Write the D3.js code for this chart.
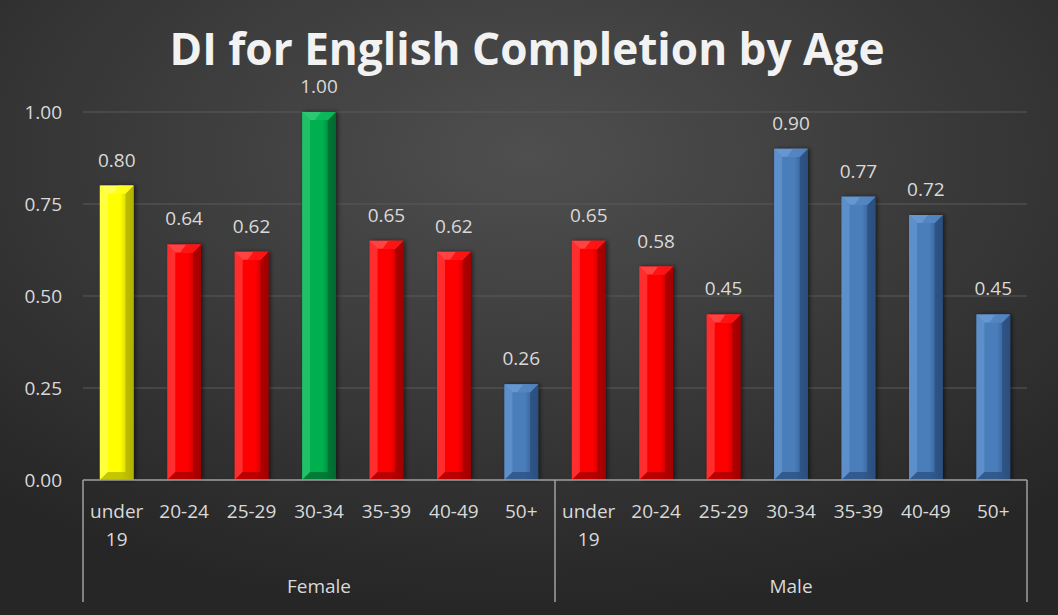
<!DOCTYPE html>
<html><head><meta charset="utf-8">
<script src="https://cdn.jsdelivr.net/npm/d3@7"></script>
<style>html,body{margin:0;padding:0;background:#2a2a2a;}svg{display:block;}</style>
</head><body>
<svg id="chart" width="1058" height="615"></svg>
<script>
const title = "DI for English Completion by Age";
const groups = ["Female", "Male"];
const ages = ["under 19", "20-24", "25-29", "30-34", "35-39", "40-49", "50+"];
const femaleValues = [0.80, 0.64, 0.62, 1.00, 0.65, 0.62, 0.26];
const maleValues = [0.65, 0.58, 0.45, 0.90, 0.77, 0.72, 0.45];
const femaleColors = ["yellow", "red", "red", "green", "red", "red", "blue"];
const maleColors = ["red", "red", "red", "blue", "blue", "blue", "blue"];
const yTicks = [0, 0.25, 0.5, 0.75, 1.0];

const palette = {
  yellow: {base: "#ffff00", light: "#ffff66", dark: "#b3b300"},
  red: {base: "#ff0000", light: "#ff4d4d", dark: "#a30000"},
  green: {base: "#00b050", light: "#33cc77", dark: "#006b30"},
  blue: {base: "#4a7ebb", light: "#6b9bd4", dark: "#2b4f7e"}
};

const data = [];
groups.forEach((g, gi) => {
  const vals = gi === 0 ? femaleValues : maleValues;
  const cols = gi === 0 ? femaleColors : maleColors;
  ages.forEach((a, i) => data.push({key: g + "|" + a, group: g, age: a, value: vals[i], color: cols[i]}));
});

const svg = d3.select("#chart");
const W = 1058, H = 615;
const m = {left: 83, right: 31, top: 112, bottom: 135};

const defs = svg.append("defs");
const bg = defs.append("radialGradient").attr("id", "bg").attr("cx", "50%").attr("cy", "25%").attr("r", "75%");
bg.append("stop").attr("offset", "0%").attr("stop-color", "#4f4f4f");
bg.append("stop").attr("offset", "100%").attr("stop-color", "#262626");
svg.append("rect").attr("width", W).attr("height", H).attr("fill", "url(#bg)");

Object.entries(palette).forEach(([k, p]) => {
  const lg = defs.append("linearGradient").attr("id", "g-" + k).attr("x1", "0").attr("x2", "1").attr("y1", "0").attr("y2", "0");
  lg.append("stop").attr("offset", "0%").attr("stop-color", p.base);
  lg.append("stop").attr("offset", "60%").attr("stop-color", p.base);
  lg.append("stop").attr("offset", "100%").attr("stop-color", p.dark);
});
const sh = defs.append("filter").attr("id", "shadow").attr("x", "-30%").attr("y", "-10%").attr("width", "160%").attr("height", "120%");
sh.append("feDropShadow").attr("dx", 2).attr("dy", 0).attr("stdDeviation", 2).attr("flood-color", "#000").attr("flood-opacity", 0.55);

const x = d3.scaleBand().domain(data.map(d => d.key)).range([m.left, W - m.right]).paddingInner(0.5).paddingOuter(0.25);
const y = d3.scaleLinear().domain([0, 1]).range([480, 112]);

// gridlines
svg.append("g").selectAll("line").data(yTicks.filter(t => t > 0)).join("line")
  .attr("x1", m.left).attr("x2", W - m.right)
  .attr("y1", d => y(d)).attr("y2", d => y(d))
  .attr("stroke", "#5a5a5a").attr("stroke-width", 1);

// y axis labels
const yAxis = d3.axisLeft(y).tickValues(yTicks).tickFormat(d3.format(".2f")).tickSize(0).tickPadding(21);
const yg = svg.append("g").attr("transform", `translate(${m.left},0)`).call(yAxis);
yg.select(".domain").remove();
yg.selectAll("text").attr("fill", "#d9d9d9").attr("font-size", 19).attr("font-family", "Open Sans, sans-serif");

// bars
const bars = svg.append("g").selectAll("g").data(data).join("g");
bars.each(function(d) {
  const g = d3.select(this);
  const bx = x(d.key), bw = x.bandwidth(), by = y(d.value), bh = y(0) - y(d.value);
  const p = palette[d.color];
  const b = Math.min(8, bh / 2);
  g.append("rect").attr("x", bx).attr("y", by).attr("width", bw).attr("height", bh)
    .attr("fill", "url(#g-" + d.color + ")").attr("filter", "url(#shadow)");
  g.append("polygon").attr("points", [[bx, by], [bx + b, by + b], [bx + b, by + bh - b], [bx, by + bh]].join(" "))
    .attr("fill", p.light).attr("opacity", 0.6);
  g.append("polygon").attr("points", [[bx + bw, by], [bx + bw - b, by + b], [bx + bw - b, by + bh - b], [bx + bw, by + bh]].join(" "))
    .attr("fill", p.dark).attr("opacity", 0.8);
  g.append("polygon").attr("points", [[bx, by], [bx + bw, by], [bx + bw - b, by + b], [bx + b, by + b]].join(" "))
    .attr("fill", p.light).attr("opacity", 0.85);
  g.append("polygon").attr("points", [[bx + bw / 2 + 2, by], [bx + bw, by], [bx + bw - b, by + b], [bx + bw / 2 - 4, by + b]].join(" "))
    .attr("fill", p.base).attr("opacity", 0.7);
  g.append("polygon").attr("points", [[bx, by + bh], [bx + bw, by + bh], [bx + bw - b, by + bh - b], [bx + b, by + bh - b]].join(" "))
    .attr("fill", p.dark).attr("opacity", 0.75);
});

// data labels
svg.append("g").selectAll("text").data(data).join("text")
  .attr("x", d => x(d.key) + x.bandwidth() / 2)
  .attr("y", d => y(d.value) - 19)
  .attr("text-anchor", "middle")
  .attr("fill", "#d9d9d9").attr("font-size", 19).attr("font-family", "Open Sans, sans-serif")
  .text(d => d3.format(".2f")(d.value));

// category axis
const axisY = 480;
svg.append("line").attr("x1", m.left).attr("x2", W - m.right).attr("y1", axisY).attr("y2", axisY)
  .attr("stroke", "#a0a0a0").attr("stroke-width", 1.5);
const firstMale = data.find(d => d.group === "Male").key;
const lastFemale = data.filter(d => d.group === "Female").slice(-1)[0].key;
const divX = (x(lastFemale) + x.bandwidth() + x(firstMale)) / 2;
const bounds = [m.left, divX, W - m.right];
svg.append("g").selectAll("line").data(bounds).join("line")
  .attr("x1", d => d).attr("x2", d => d).attr("y1", axisY).attr("y2", 602)
  .attr("stroke", "#a0a0a0").attr("stroke-width", 1.5);

// tick labels
const tl = svg.append("g").selectAll("text").data(data).join("text")
  .attr("text-anchor", "middle")
  .attr("fill", "#d9d9d9").attr("font-size", 19).attr("font-family", "Open Sans, sans-serif");
tl.each(function(d) {
  const t = d3.select(this);
  const cx = x(d.key) + x.bandwidth() / 2;
  const parts = d.age === "under 19" ? ["under", "19"] : [d.age];
  parts.forEach((p, i) => t.append("tspan").attr("x", cx).attr("y", 518 + i * 28).text(p));
});

// group labels
svg.append("g").selectAll("text").data(groups).join("text")
  .attr("x", (d, i) => (bounds[i] + bounds[i + 1]) / 2)
  .attr("y", 593)
  .attr("text-anchor", "middle")
  .attr("fill", "#d9d9d9").attr("font-size", 19).attr("font-family", "Open Sans, sans-serif")
  .text(d => d);

// title
const tt = svg.append("text").attr("x", 527).attr("y", 65).attr("text-anchor", "middle")
  .attr("fill", "#f2f2f2").attr("font-weight", "bold").attr("font-family", "Open Sans, sans-serif")
  .attr("font-size", 40).text(title);
const tw = tt.node().getComputedTextLength();
tt.attr("font-size", 40 * 715 / tw);
</script>
</body></html>
